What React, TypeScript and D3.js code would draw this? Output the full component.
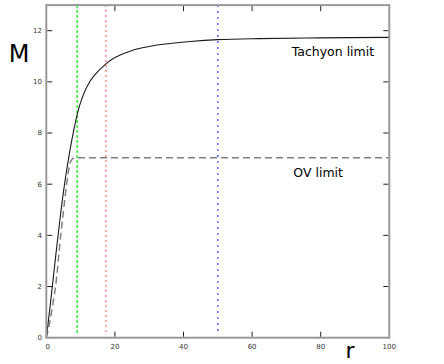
import React from "react";
import * as d3 from "d3";

const tachyonR = [0, 1, 2, 3, 4, 5, 6, 7, 8, 9, 10, 12, 14, 17.4, 20, 24, 28, 34, 42, 50, 62, 80, 100];
const tachyonM = [0, 1.1, 2.3, 3.5, 4.65, 5.7, 6.6, 7.4, 8.1, 8.72, 9.2, 9.85, 10.25, 10.7, 10.95, 11.18, 11.33, 11.47, 11.58, 11.65, 11.69, 11.72, 11.74];
const ovR = [0, 1, 2, 2.7, 4.2, 5, 6.1, 6.9, 7.5, 8, 9, 100];
const ovM = [0, 0.6, 1.4, 2, 4, 4.95, 6.17, 6.82, 6.97, 7.02, 7.03, 7.03];
const vLines = [9, 17.4, 50];
const vColors = ["#33ee33", "#ff8c8c", "#5a5aff"];
const vDash = ["3,2", "2,3", "2,4"];
const xTicks = [0, 20, 40, 60, 80, 100];
const yTicks = [0, 2, 4, 6, 8, 10, 12];

export default function App() {
  const x = d3.scaleLinear().domain([0, 100]).range([46.3, 389.3]);
  const y = d3.scaleLinear().domain([0, 13]).range([337.7, 5.1]);
  const tachLine = d3
    .line<[number, number]>()
    .x((d) => x(d[0]))
    .y((d) => y(d[1]))
    .curve(d3.curveCatmullRom.alpha(0.5));
  const ovLine = d3
    .line<[number, number]>()
    .x((d) => x(d[0]))
    .y((d) => y(d[1]))
    .curve(d3.curveMonotoneX);
  const tach = tachLine(tachyonR.map((r, i) => [r, tachyonM[i]]) as [number, number][]) || "";
  const ov = ovLine(ovR.map((r, i) => [r, ovM[i]]) as [number, number][]) || "";
  const font = "DejaVu Sans, Verdana, sans-serif";
  return (
    <svg
      width={444}
      height={364}
      style={{ position: "absolute", left: 0, top: 0, background: "#fff" }}
    >
      {vLines.map((v, i) => (
        <line
          key={"v" + i}
          x1={x(v)}
          x2={x(v)}
          y1={y(13)}
          y2={y(0.18)}
          stroke={vColors[i]}
          strokeWidth={1.5}
          strokeDasharray={vDash[i]}
        />
      ))}
      <path d={ov} fill="none" stroke="#808080" strokeWidth={1.5} strokeDasharray="7,4" />
      <path d={tach} fill="none" stroke="#1a1a1a" strokeWidth={1.1} />
      <rect
        x={x(0)}
        y={y(13)}
        width={x(100) - x(0)}
        height={y(0) - y(13)}
        fill="none"
        stroke="#999"
        strokeWidth={2}
      />
      {xTicks.slice(1, -1).map((t) => (
        <g key={"xt" + t}>
          <line x1={x(t)} x2={x(t)} y1={y(0) - 1} y2={y(0) - 6} stroke="#222" strokeWidth={1} />
          <line x1={x(t)} x2={x(t)} y1={y(13) + 1} y2={y(13) + 6} stroke="#222" strokeWidth={1} />
        </g>
      ))}
      {yTicks.slice(1).map((t) => (
        <g key={"yt" + t}>
          <line x1={x(0) + 1} x2={x(0) + 6} y1={y(t)} y2={y(t)} stroke="#222" strokeWidth={1} />
          <line x1={x(100) - 1} x2={x(100) - 6} y1={y(t)} y2={y(t)} stroke="#222" strokeWidth={1} />
        </g>
      ))}
      {xTicks.map((t) => (
        <text
          key={"xl" + t}
          x={x(t) + (t === 0 ? 1.5 : 0)}
          y={349}
          textAnchor="middle"
          fontFamily={font}
          fontSize={7}
          fill="#333"
        >
          {t}
        </text>
      ))}
      {yTicks.map((t) => (
        <text
          key={"yl" + t}
          x={42}
          y={y(t)}
          dy="0.35em"
          textAnchor="end"
          fontFamily={font}
          fontSize={7}
          fill="#333"
        >
          {t}
        </text>
      ))}
      <text x={19} y={62} textAnchor="middle" fontFamily={font} fontSize={24} fill="#000">
        M
      </text>
      <text x={350} y={358} textAnchor="middle" fontFamily={font} fontSize={22} fill="#000">
        r
      </text>
      <text x={291.7} y={56} fontFamily={font} fontSize={12.5} fill="#000">
        Tachyon limit
      </text>
      <text x={293.3} y={176.6} fontFamily={font} fontSize={12.5} fill="#000">
        OV limit
      </text>
    </svg>
  );
}
